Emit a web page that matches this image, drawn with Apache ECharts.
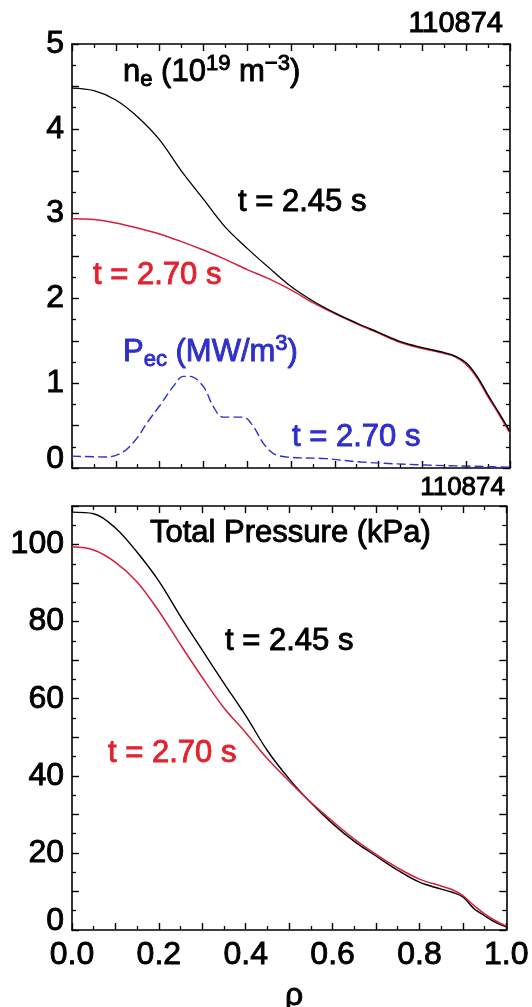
<!DOCTYPE html>
<html>
<head>
<meta charset="utf-8">
<script src="https://cdn.jsdelivr.net/npm/echarts@6/dist/echarts.min.js"></script>
<style>
  html, body { margin: 0; padding: 0; background: #ffffff; }
  #chart { width: 532px; height: 1007px; }
</style>
</head>
<body>
<div id="chart"></div>
<script>
// Shot 110874: electron density and total pressure profiles vs normalized radius rho
const rhoNe = [0, 0.05, 0.10, 0.15, 0.20, 0.25, 0.30, 0.35, 0.40, 0.45, 0.50, 0.55,
               0.60, 0.65, 0.70, 0.75, 0.80, 0.85, 0.875, 0.90, 0.925, 0.95, 0.975, 1.0];
const neT245 = [4.48, 4.45, 4.34, 4.14, 3.87, 3.50, 3.17, 2.84, 2.59, 2.36, 2.14, 1.97,
                1.83, 1.71, 1.60, 1.49, 1.42, 1.36, 1.32, 1.24, 1.08, 0.86, 0.65, 0.43];
const neT270 = [2.94, 2.93, 2.89, 2.83, 2.76, 2.67, 2.57, 2.46, 2.34, 2.23, 2.10, 1.95,
                1.82, 1.70, 1.59, 1.48, 1.41, 1.35, 1.31, 1.22, 1.06, 0.84, 0.63, 0.41];

// ECH power deposition at t = 2.70 s
const rhoPec = [0, 0.08, 0.117, 0.148, 0.171, 0.201, 0.231, 0.254, 0.269, 0.30,
                0.323, 0.345, 0.391, 0.414, 0.437, 0.46, 0.49, 0.58, 0.66, 0.81, 0.96, 1.0];
const pecT270 = [0.14, 0.13, 0.19, 0.35, 0.53, 0.74, 0.96, 1.08, 1.08, 0.96,
                 0.72, 0.60, 0.60, 0.49, 0.29, 0.17, 0.13, 0.11, 0.07, 0.035, 0.015, 0.01];

// Total pressure (kPa)
const rhoP = [0, 0.05, 0.10, 0.15, 0.20, 0.25, 0.30, 0.35, 0.40, 0.45, 0.50, 0.55,
              0.60, 0.65, 0.70, 0.75, 0.80, 0.85, 0.875, 0.90, 0.925, 0.95, 0.975, 1.0];
const pT245 = [108.4, 108.0, 104.3, 98.0, 90.5, 81.3, 72.6, 64.0, 55.6, 46.5, 39.2, 33.0,
               27.6, 23.0, 19.2, 15.5, 12.4, 10.6, 9.8, 8.6, 5.6, 3.7, 2.0, 0.8];
const pT270 = [99.4, 98.6, 95.4, 90.3, 82.7, 74.0, 65.5, 57.6, 51.2, 44.4, 38.6, 33.1,
               28.2, 23.6, 19.6, 16.1, 13.2, 11.4, 10.5, 8.9, 6.4, 4.2, 2.4, 1.0];

const xTickLabels = ['0.0', '0.2', '0.4', '0.6', '0.8', '1.0'];
const shotNumber = '110874';

const FONT = '"Liberation Sans", Arial, Helvetica, sans-serif';
const BLACK = '#000000';
const RED_LINE = '#d61f3c';
const RED_TEXT = '#e3222f';
const BLUE = '#2f2fcc';
const STROKE = 0.9;   // slight outline to give the labels a medium weight

const pairs = (xs, ys) => xs.map((x, i) => [x, ys[i]]);

const lineAxis = { show: true, onZero: false, lineStyle: { color: BLACK, width: 1.6 } };
const tickStyle = (len) => ({ show: true, inside: true, length: len, lineStyle: { color: BLACK, width: 1.4 } });
const minorStyle = { show: true, splitNumber: 2, length: 4, lineStyle: { color: BLACK, width: 1.3 } };
const noSplit = { show: false };

function xAxisFor(grid, pos, withLabels) {
  return {
    gridIndex: grid, type: 'value', position: pos, min: 0, max: 1, interval: 0.1,
    axisLine: lineAxis, axisTick: tickStyle(7), minorTick: minorStyle,
    splitLine: noSplit, minorSplitLine: noSplit,
    axisLabel: withLabels ? {
      show: true, margin: 9, color: BLACK, fontFamily: FONT, fontSize: 32,
      textBorderColor: BLACK, textBorderWidth: STROKE,
      formatter: (v) => {
        const k = Math.round(v * 10);
        return k % 2 === 0 ? xTickLabels[k / 2] : '';
      }
    } : { show: false }
  };
}

function yAxisFor(grid, pos, min, max, step, labelStep, withLabels) {
  return {
    gridIndex: grid, type: 'value', position: pos, min: min, max: max, interval: step,
    axisLine: lineAxis, axisTick: tickStyle(7), minorTick: minorStyle,
    splitLine: noSplit, minorSplitLine: noSplit,
    axisLabel: withLabels ? {
      show: true, margin: 8, color: BLACK, fontFamily: FONT, fontSize: 32,
      textBorderColor: BLACK, textBorderWidth: STROKE,
      formatter: (v) => {
        const r = v / labelStep;
        if (Math.abs(r - Math.round(r)) > 1e-6) return '';
        if (Math.abs(v) < 1e-9) return '{z|0}';
        return String(Math.round(v));
      },
      rich: { z: { fontFamily: FONT, fontSize: 32, color: BLACK, textBorderColor: BLACK, textBorderWidth: STROKE, padding: [0, 0, 18, 0] } }
    } : { show: false }
  };
}

function lineSeries(name, xi, yi, data, color, width, dashed) {
  return {
    name: name, type: 'line', xAxisIndex: xi, yAxisIndex: yi,
    data: data, showSymbol: false, symbol: 'none', smooth: 0.35,
    lineStyle: { color: color, width: width, type: dashed ? [9, 4] : 'solid' },
    silent: true
  };
}

function label(text, x, y, color, size, align) {
  return {
    type: 'text', x: x, y: y, silent: true,
    style: {
      text: text, fill: color, font: size + 'px ' + FONT,
      stroke: color, lineWidth: STROKE,
      textAlign: align || 'left', textVerticalAlign: 'middle'
    }
  };
}

function richLabel(x, y, color, parts) {
  // parts: [text, kind] where kind is 'n' (normal), 'sub' or 'sup'
  const base = { fontFamily: FONT, fill: color, stroke: color, lineWidth: STROKE };
  const rich = {
    n: Object.assign({ fontSize: 31 }, base),
    sub: Object.assign({ fontSize: 22, padding: [16, 0, 0, 0] }, base),
    sup: Object.assign({ fontSize: 22, padding: [0, 0, 16, 0] }, base)
  };
  return {
    type: 'text', x: x, y: y, silent: true,
    style: {
      text: parts.map(p => '{' + p[1] + '|' + p[0] + '}').join(''),
      rich: rich, fill: color, stroke: color, lineWidth: STROKE, font: '31px ' + FONT,
      textAlign: 'left', textVerticalAlign: 'middle'
    }
  };
}

const chart = echarts.init(document.getElementById('chart'), null, { renderer: 'canvas' });

chart.setOption({
  animation: false,
  backgroundColor: '#ffffff',
  grid: [
    { left: 72, top: 44, width: 438, height: 424 },
    { left: 72, top: 506, width: 438, height: 424 }
  ],
  xAxis: [
    xAxisFor(0, 'bottom', false),
    xAxisFor(0, 'top', false),
    xAxisFor(1, 'bottom', true),
    xAxisFor(1, 'top', false)
  ],
  yAxis: [
    yAxisFor(0, 'left', 0, 5, 0.5, 1, true),
    yAxisFor(0, 'right', 0, 5, 0.5, 1, false),
    yAxisFor(1, 'left', 0, 110, 10, 20, true),
    yAxisFor(1, 'right', 0, 110, 10, 20, false)
  ],
  series: [
    lineSeries('Pec t=2.70 s', 0, 0, pairs(rhoPec, pecT270), BLUE, 1.4, true),
    lineSeries('ne t=2.70 s', 0, 0, pairs(rhoNe, neT270), RED_LINE, 1.5, false),
    lineSeries('ne t=2.45 s', 0, 0, pairs(rhoNe, neT245), BLACK, 1.3, false),
    lineSeries('p t=2.45 s', 2, 2, pairs(rhoP, pT245), BLACK, 1.4, false),
    lineSeries('p t=2.70 s', 2, 2, pairs(rhoP, pT270), RED_LINE, 1.5, false)
  ],
  graphic: [
    label(shotNumber, 503, 24, BLACK, 29, 'right'),
    label(shotNumber, 505, 488, BLACK, 26, 'right'),
    richLabel(123, 72, BLACK, [['n', 'n'], ['e', 'sub'], [' (10', 'n'], ['19', 'sup'], [' m', 'n'], ['\u22123', 'sup'], [')', 'n']]),
    label('t = 2.45 s', 238, 202, BLACK, 31),
    label('t = 2.70 s', 93, 275, RED_TEXT, 31),
    richLabel(123, 352, BLUE, [['P', 'n'], ['ec', 'sub'], [' (MW/m', 'n'], ['3', 'sup'], [')', 'n']]),
    label('t = 2.70 s', 292, 437, BLUE, 31),
    label('Total Pressure (kPa)', 150, 533, BLACK, 31),
    label('t = 2.45 s', 225, 641, BLACK, 31),
    label('t = 2.70 s', 108, 753, RED_TEXT, 31),
    label('\u03C1', 294, 996, BLACK, 32, 'center')
  ]
});
</script>
</body>
</html>
